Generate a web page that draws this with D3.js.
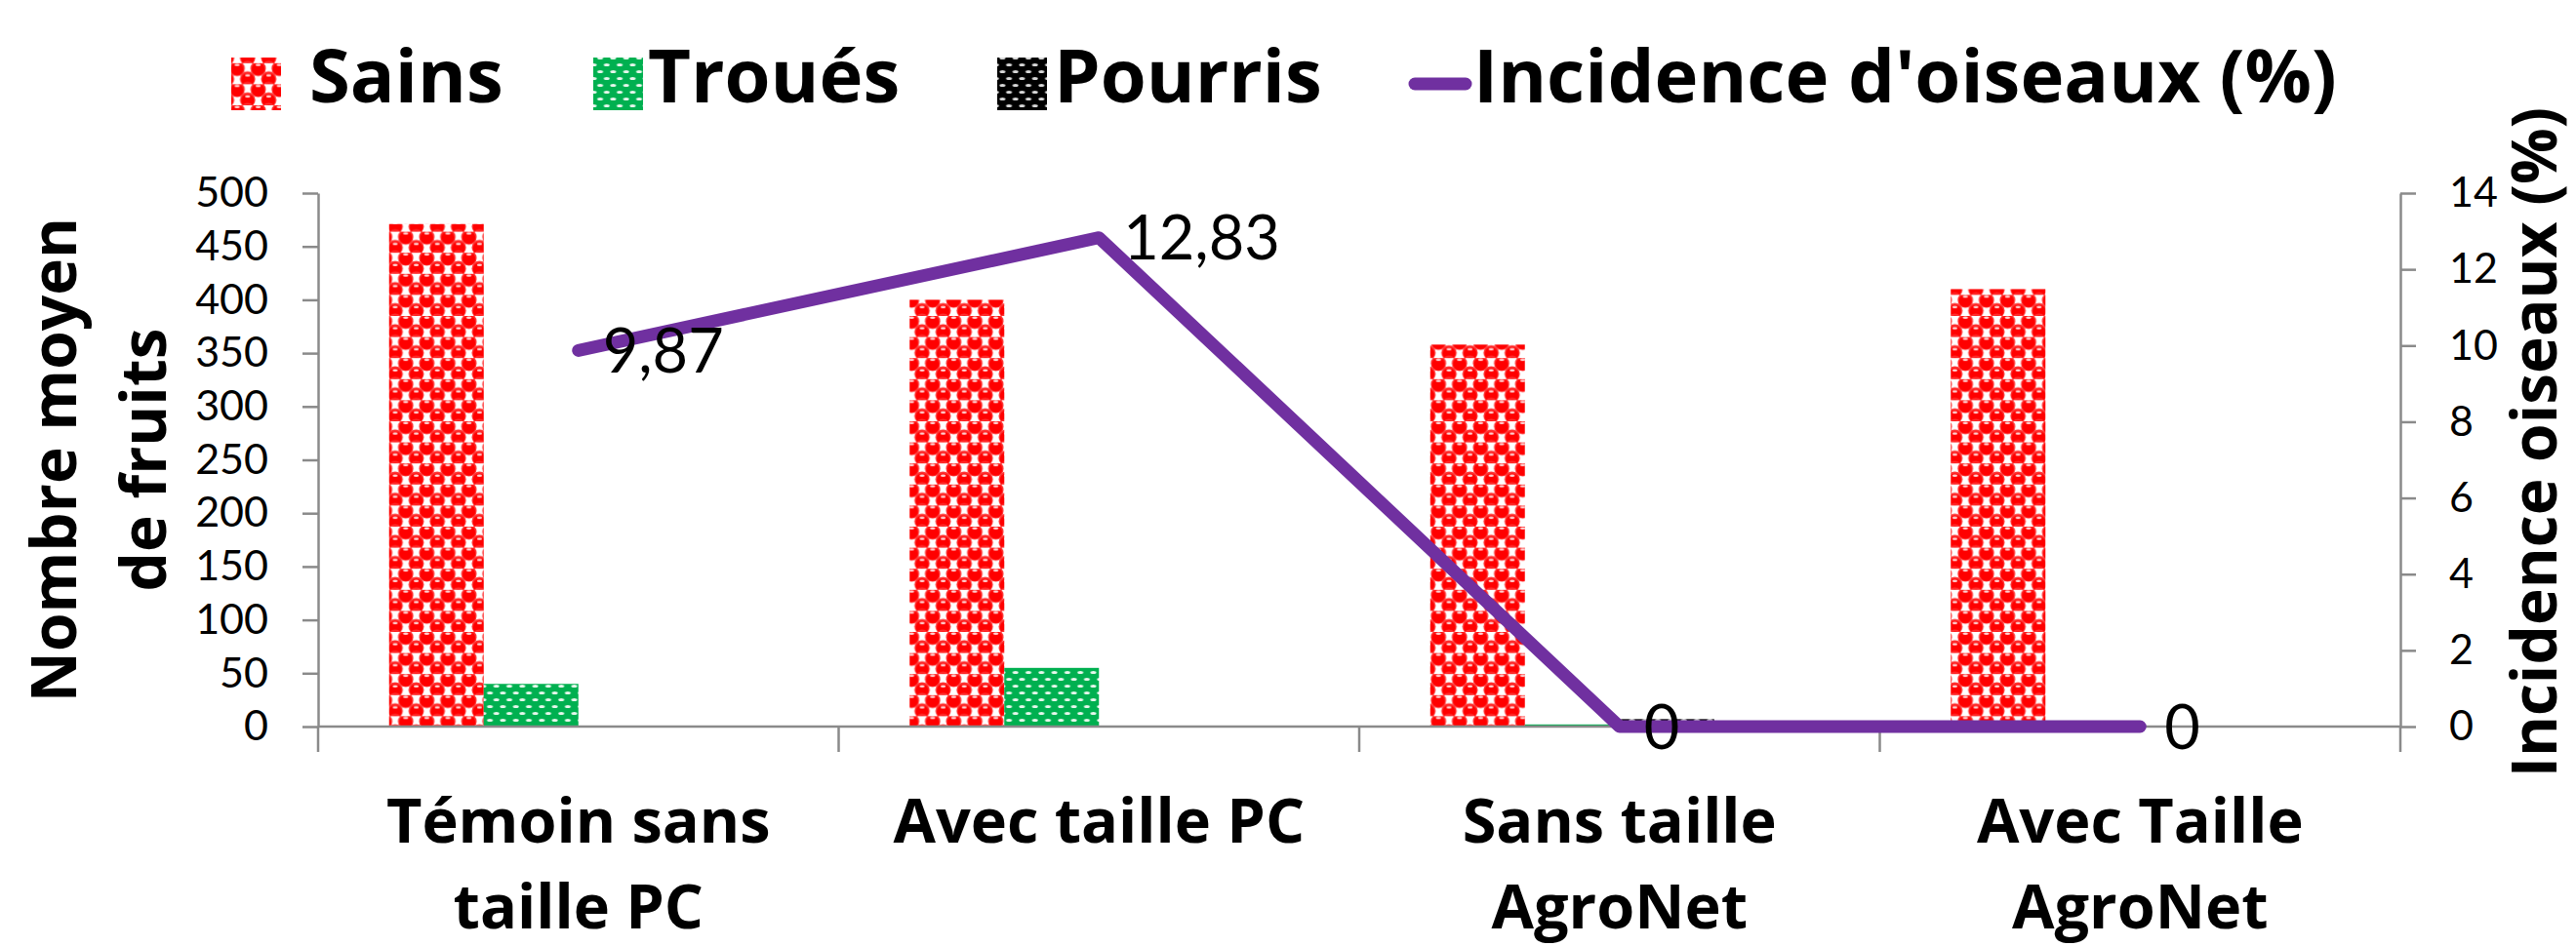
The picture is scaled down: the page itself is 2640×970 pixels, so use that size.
<!DOCTYPE html>
<html><head><meta charset="utf-8">
<script src="https://cdn.jsdelivr.net/npm/d3@7"></script>
<style>body{margin:0;background:#fff}</style>
</head><body>
<svg id="chart" width="2640" height="970"></svg>
<script>
// ---- data ----
const categories = ["Témoin sans taille PC", "Avec taille PC", "Sans taille AgroNet", "Avec Taille AgroNet"];
const seriesNames = ["Sains", "Troués", "Pourris"];
const lineName = "Incidence d'oiseaux (%)";
const sains = [471, 400, 358, 410];
const troues = [40, 55, 2, 0];
const pourris = [0, 0, 7, 0];
const incidence = [9.87, 12.83, 0, 0];
const leftTicks = [0, 50, 100, 150, 200, 250, 300, 350, 400, 450, 500];
const rightTicks = [0, 2, 4, 6, 8, 10, 12, 14];
const leftTitle = ["Nombre moyen", "de fruits"];
const rightTitle = "Incidence oiseaux (%)";

const barValues = [sains, troues, pourris];

// ---- setup ----
const svg = d3.select("#chart");
const FONT = "'Open Sans', 'Noto Sans', sans-serif";
const NUMFONT = "Lato, 'Open Sans', sans-serif";
const AXIS = "#8a8a8a";
const PURPLE = "#7030A0";

const defs = svg.append("defs");
// Sains: red spheres
(function(){
  const p = defs.append("pattern").attr("id","pat0").attr("patternUnits","userSpaceOnUse")
    .attr("width",21.6).attr("height",21.6);
  p.append("rect").attr("width",21.6).attr("height",21.6).attr("fill","#fff");
  [[5.4,5.4],[16.2,16.2],[-5.4,16.2],[27,5.4],[5.4,-5.4],[16.2,27]].forEach(([cx,cy])=>{
    p.append("circle").attr("cx",cx).attr("cy",cy).attr("r",7.9).attr("fill","#ff3030");
    p.append("circle").attr("cx",cx).attr("cy",cy+0.6).attr("r",6.6).attr("fill","#ff0000");
  });
  [[5.4,5.4],[16.2,16.2]].forEach(([cx,cy])=>{
    p.append("ellipse").attr("cx",cx).attr("cy",cy-3.6).attr("rx",2.6).attr("ry",1.2).attr("fill","#ffd6d6");
  });
})();
function dotPattern(id, bg, dot){
  const w = 13.3, h = 14;
  const p = defs.append("pattern").attr("id",id).attr("patternUnits","userSpaceOnUse")
    .attr("width",w).attr("height",h);
  p.append("rect").attr("width",w).attr("height",h).attr("fill",bg);
  [[3.3,3.5],[10,10.5]].forEach(([cx,cy])=>{
    p.append("ellipse").attr("cx",cx).attr("cy",cy).attr("rx",3).attr("ry",1.5).attr("fill",dot);
  });
}
dotPattern("pat1", "#00B050", "#e6f7ec");
dotPattern("pat2", "#000000", "#d8d8d8");

// ---- scales ----
const x = d3.scaleBand().domain(categories).range([326, 2460]);
const sub = d3.scaleBand().domain([...seriesNames, lineName]).range([0, x.bandwidth()])
  .paddingInner(0).paddingOuter(0.75);
const yL = d3.scaleLinear().domain([0, 500]).range([745, 198]);
const yR = d3.scaleLinear().domain([0, 14]).range([745, 198]);

// ---- bars ----
seriesNames.forEach((s, si) => {
  svg.append("g").selectAll("rect").data(barValues[si]).join("rect")
    .attr("x", (d, i) => x(categories[i]) + sub(s))
    .attr("y", d => yL(d))
    .attr("width", sub.bandwidth())
    .attr("height", d => yL(0) - yL(d))
    .attr("fill", `url(#pat${si})`);
});

// ---- axes ----
const gL = svg.append("g").attr("transform", `translate(${x.range()[0]},0)`)
  .call(d3.axisLeft(yL).tickValues(leftTicks).tickSize(16).tickSizeOuter(0).tickPadding(35));
const gR = svg.append("g").attr("transform", `translate(${x.range()[1]},0)`)
  .call(d3.axisRight(yR).tickValues(rightTicks).tickSize(16).tickSizeOuter(0).tickPadding(34));
[gL, gR].forEach(g => {
  g.selectAll("path,line").attr("stroke", AXIS).attr("stroke-width", 2.5);
  g.selectAll("text").attr("font-family", NUMFONT).attr("font-size", 43).attr("fill", "#000");
});

// category axis line & boundary ticks
const gX = svg.append("g");
const bounds = categories.map(c => x(c)).concat([x.range()[1]]);
gX.selectAll("line.t").data(bounds).join("line")
  .attr("x1", d => d).attr("x2", d => d).attr("y1", yL(0)).attr("y2", yL(0) + 26)
  .attr("stroke", AXIS).attr("stroke-width", 2.5);
gX.append("line").attr("x1", x.range()[0]).attr("x2", x.range()[1])
  .attr("y1", yL(0)).attr("y2", yL(0)).attr("stroke", AXIS).attr("stroke-width", 2.5);

// category labels (wrapped)
const catG = svg.append("g").attr("font-family", FONT).attr("font-weight", 700)
  .attr("font-size", 63).attr("fill", "#000").attr("text-anchor", "middle");
categories.forEach(c => {
  const cx = x(c) + x.bandwidth() / 2;
  const words = c.split(" ");
  const lines = [];
  let cur = [];
  const probe = catG.append("text");
  words.forEach(w => {
    const test = cur.concat([w]).join(" ");
    probe.text(test);
    if (probe.node().getComputedTextLength() > 470 && cur.length) {
      lines.push(cur.join(" ")); cur = [w];
    } else cur.push(w);
  });
  lines.push(cur.join(" "));
  probe.remove();
  lines.forEach((ln, li) => {
    catG.append("text").attr("x", cx).attr("y", 864 + li * 88).text(ln);
  });
});

// ---- line ----
const line = d3.line().x((d, i) => x(categories[i]) + x.bandwidth() / 2).y(d => yR(d));
svg.append("path").datum(incidence).attr("d", line).attr("fill", "none")
  .attr("stroke", PURPLE).attr("stroke-width", 13)
  .attr("stroke-linecap", "round").attr("stroke-linejoin", "round");

// data labels
const fr = d3.formatLocale({decimal: ",", thousands: " ", grouping: [3], currency: ["", "€"]});
const fmt = v => v === 0 ? "0" : fr.format(".2f")(v);
svg.append("g").selectAll("text").data(incidence).join("text")
  .attr("x", (d, i) => x(categories[i]) + x.bandwidth() / 2 + 25)
  .attr("y", d => yR(d) + 63 * 0.36)
  .attr("font-family", NUMFONT).attr("font-size", 63).attr("fill", "#000")
  .text(fmt);

// ---- axis titles ----
const tL = svg.append("g").attr("font-family", FONT).attr("font-weight", 700)
  .attr("font-size", 64).attr("text-anchor", "middle").attr("fill", "#000");
leftTitle.forEach((t, i) => {
  tL.append("text").attr("transform", `translate(${78 + i * 92},${(yL(0) + yL(500)) / 2}) rotate(-90)`).text(t);
});
tL.append("text").attr("transform", `translate(2620,${(yR(0) + yR(14)) / 2 - 18}) rotate(-90)`).text(rightTitle);

// ---- legend ----
const leg = svg.append("g").attr("font-family", FONT).attr("font-weight", 700)
  .attr("font-size", 76).attr("fill", "#000");
const swatchX = [237, 608, 1022];
const textX = [317, 664, 1080, 1510];
seriesNames.forEach((s, i) => {
  leg.append("rect").attr("x", swatchX[i]).attr("y", 59).attr("width", 51).attr("height", 54)
    .attr("fill", `url(#pat${i})`);
  leg.append("text").attr("x", textX[i]).attr("y", 105).text(s);
});
leg.append("line").attr("x1", 1450).attr("x2", 1502).attr("y1", 86).attr("y2", 86)
  .attr("stroke", PURPLE).attr("stroke-width", 13).attr("stroke-linecap", "round");
leg.append("text").attr("x", textX[3]).attr("y", 105).text(lineName);
</script>
</body></html>
